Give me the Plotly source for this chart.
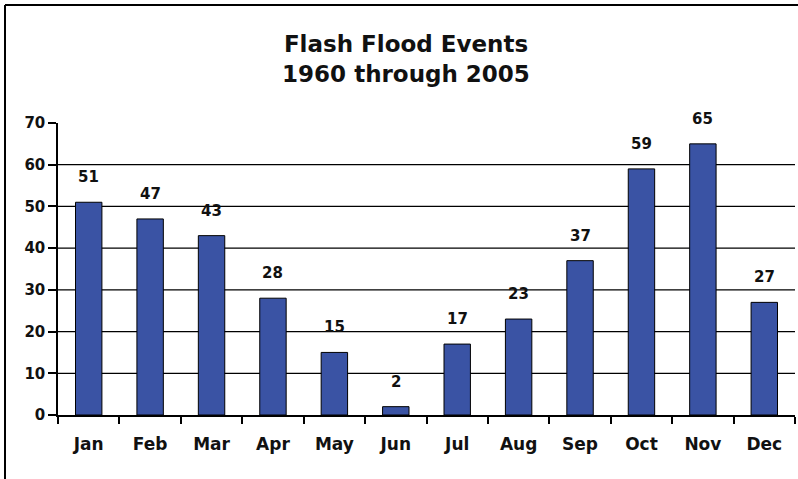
import plotly.graph_objects as go

months = ["Jan", "Feb", "Mar", "Apr", "May", "Jun",
          "Jul", "Aug", "Sep", "Oct", "Nov", "Dec"]
events = [51, 47, 43, 28, 15, 2, 17, 23, 37, 59, 65, 27]
y_ticks = [0, 10, 20, 30, 40, 50, 60, 70]
grid_values = [10, 20, 30, 40, 50, 60]

FONT = "DejaVu Sans"
W, H = 798, 479
ML, MR, MT, MB = 58, 3, 123, 64
PW, PH = W - ML - MR, H - MT - MB

fig = go.Figure()
fig.add_trace(go.Bar(
    x=months, y=events,
    marker=dict(color="#3A53A4", line=dict(color="#000000", width=1)),
    width=0.43,
    hoverinfo="x+y",
))

# value labels above each bar
for m, v in zip(months, events):
    fig.add_annotation(x=m, y=v, text=str(v), showarrow=False,
                       yanchor="bottom", yshift=14,
                       font=dict(family=FONT, size=15, color="#111111",
                                 weight="bold"))

shapes = []
# horizontal gridlines (no line at the top value)
for g in grid_values:
    shapes.append(dict(type="line", xref="paper", yref="y", x0=0, x1=1,
                       y0=g, y1=g, line=dict(color="#000000", width=1.2),
                       layer="below"))
# frame lines on the left and top of the image
bx = (5 - ML) / PW
by = 1 + (MT - 5) / PH
shapes.append(dict(type="line", xref="paper", yref="paper", x0=bx, x1=1.1,
                   y0=by, y1=by, line=dict(color="#000000", width=2)))
shapes.append(dict(type="line", xref="paper", yref="paper", x0=bx, x1=bx,
                   y0=by, y1=-0.5, line=dict(color="#000000", width=2)))

fig.update_layout(
    width=W, height=H,
    margin=dict(l=ML, r=MR, t=MT, b=MB),
    paper_bgcolor="white", plot_bgcolor="white",
    showlegend=False,
    shapes=shapes,
    title=dict(text="Flash Flood Events<br>1960 through 2005",
               x=406 / W, xanchor="center", y=1 - 52 / H, yanchor="middle",
               font=dict(family=FONT, size=23, color="#111111",
                         weight="bold")),
    xaxis=dict(
        type="category", showgrid=False, showline=True,
        linecolor="#000000", linewidth=1.5,
        ticks="outside", tickson="boundaries", ticklen=7,
        tickcolor="#000000", tickwidth=1.5,
        tickfont=dict(family=FONT, size=17, color="#111111", weight="bold"),
        ticklabelstandoff=13,
    ),
    yaxis=dict(
        range=[0, 70], tickvals=y_ticks, showgrid=False, zeroline=False,
        showline=True, linecolor="#000000", linewidth=1.5,
        ticks="outside", ticklen=8, tickcolor="#000000", tickwidth=1.5,
        tickfont=dict(family=FONT, size=15, color="#111111", weight="bold"),
    ),
)

fig.write_html("out.html")
